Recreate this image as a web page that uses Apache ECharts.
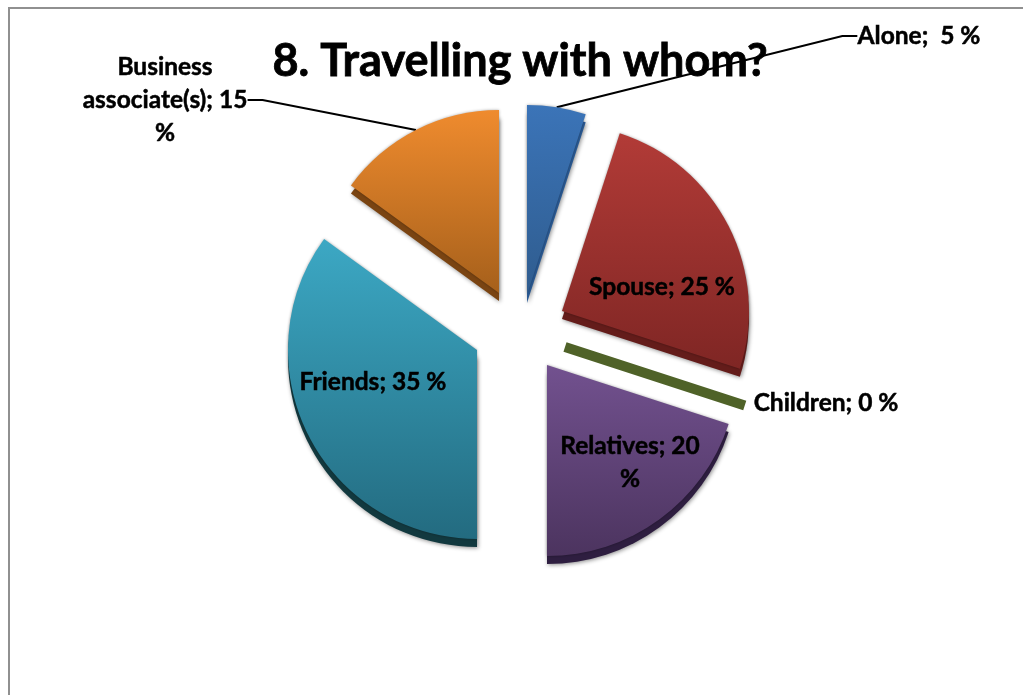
<!DOCTYPE html>
<html>
<head>
<meta charset="utf-8">
<style>html,body{margin:0;padding:0;background:#fff}#c{width:1023px;height:695px}</style>
<script src="https://cdn.jsdelivr.net/npm/echarts@6/dist/echarts.min.js"></script>
</head>
<body>
<div id="c"></div>
<script>
const categories = ['Alone', 'Spouse', 'Children', 'Relatives', 'Friends', 'Business associate(s)'];
const values = [5, 25, 0, 20, 35, 15];
const labelTexts = ['Alone;  5 %', 'Spouse; 25 %', 'Children; 0 %', 'Relatives; 20\n%', 'Friends; 35 %', 'Business\nassociate(s); 15\n%'];
const titleText = '8. Travelling with whom?';

const centers = [[527,295],[562,311],[565,347],[547,365],[477,350],[499,293]];
const radii = [190,187,189,191,189,183];
const labelPos = [[919,36],[662,287],[826,403],[630,463],[373,382],[165,100]];
const gradTop = ['#3b74b8','#b23b37','#4f6228','#72518f','#3ca8c4','#ef8b2e'];
const gradBot = ['#2f5c8e','#7f2624','#4f6228','#4c345f','#236b80','#a6601b'];
const sideCol = ['#2a5a94','#641c1a','#4f6228','#2e1e40','#12393f','#7a4412'];
const leader = [true,false,false,false,false,true];

const total = values.reduce((a,b)=>a+b,0);
const series = [];
let cum = 0;
values.forEach((v,i)=>{
  const start = 90 - cum/total*360;
  cum += v;
  const base = {
    type:'pie', center:centers[i], radius:[0,radii[i]], startAngle:start, clockwise:true,
    animation:false, silent:true, avoidLabelOverlap:false, emphasis:{disabled:true}
  };
  const rest = {value:total-v, name:'rest', itemStyle:{color:'rgba(0,0,0,0)'}, label:{show:false}, labelLine:{show:false}};
  const isZero = v===0;
  // side wall of the slice
  if(!isZero) series.push(Object.assign({},base,{
    center:[centers[i][0],centers[i][1]+8], z:2, label:{show:false}, labelLine:{show:false},
    data:[{value:v,name:categories[i],itemStyle:{color:sideCol[i],shadowBlur:4,shadowColor:'rgba(0,0,0,0.45)',shadowOffsetX:1,shadowOffsetY:1}},rest]
  }));
  // top face with label
  series.push(Object.assign({},base,{
    z:3,
    label:{show:true,position:leader[i]?'outside':'inside',formatter:labelTexts[i],
      fontFamily:'Lato',fontWeight:'bold',fontSize:24.5,lineHeight:33,color:'#000',align:'center',
      textBorderColor:'#000',textBorderWidth:0.5},
    labelLine:{show:leader[i],length:20,length2:15,lineStyle:{color:'#000',width:2}},
    labelLayout:{x:labelPos[i][0],y:labelPos[i][1],align:'center',verticalAlign:'middle'},
    data:[{value:v,name:categories[i],itemStyle: isZero
      ? {color:gradTop[i],borderColor:gradTop[i],borderWidth:10,borderCap:'butt',borderJoin:'bevel'}
      : {color:{type:'linear',x:0,y:0,x2:0,y2:1,colorStops:[{offset:0,color:gradTop[i]},{offset:1,color:gradBot[i]}]},shadowBlur:3,shadowColor:'rgba(0,0,0,0.35)'}},rest]
  }));
});

const chart = echarts.init(document.getElementById('c'),null,{renderer:'canvas'});
chart.setOption({
  backgroundColor:'#fff',
  animation:false,
  title:{text:titleText,left:515,top:56,textAlign:'center',textVerticalAlign:'middle',
    textStyle:{fontFamily:'Lato',fontWeight:'bold',fontSize:45,color:'#000',textBorderColor:'#000',textBorderWidth:0.8}},
  graphic:[{type:'rect',z:0,shape:{x:9,y:8,width:1100,height:800},style:{fill:'none',stroke:'#909090',lineWidth:2}}],
  series
});
</script>
</body>
</html>
